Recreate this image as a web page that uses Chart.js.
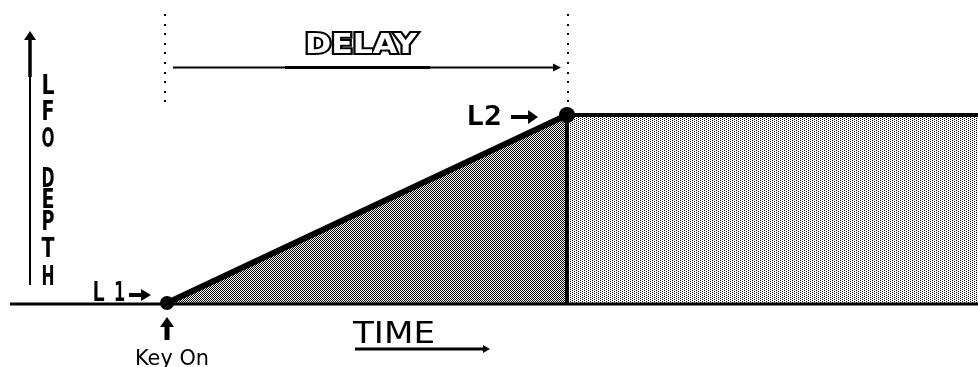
<!DOCTYPE html>
<html>
<head>
<meta charset="utf-8">
<script src="https://cdn.jsdelivr.net/npm/chart.js@4/dist/chart.umd.min.js"></script>
<style>
  html, body { margin: 0; padding: 0; background: #fff; }
  #wrap { width: 978px; height: 367px; position: relative; }
</style>
</head>
<body>
<div id="wrap"><canvas id="lfo"></canvas></div>
<script>
// Envelope of LFO depth over time: key on at L1, ramps to L2 over the delay, then holds.
const stageNames  = ['L1', 'L2', 'Hold'];
const stageTimes  = [0, 1, 2.1];     // key on, end of delay, held to the end
const stageDepths = [0, 1, 1];       // L1, L2, L2

// Text drawn around the envelope
const axisTitle  = 'LFO DEPTH';
const delayTitle = 'DELAY';
const timeTitle  = 'TIME';
const keyOnText  = 'Key On';

function makePattern(w, h, dots) {
  const c = document.createElement('canvas');
  c.width = w; c.height = h;
  const g = c.getContext('2d');
  g.fillStyle = '#fff';
  g.fillRect(0, 0, w, h);
  g.fillStyle = '#000';
  dots.forEach(([px, py]) => g.fillRect(px, py, 1, 1));
  return g.createPattern(c, 'repeat');
}
const ctx0 = document.getElementById('lfo').getContext('2d');
// dense dither under the rising ramp, sparse dots under the held level
const rampFill = makePattern(2, 2, [[0, 0], [1, 1]]);
const holdFill = makePattern(4, 4, [[0, 0], [0, 2], [2, 1], [2, 3]]);

const pt = i => ({ x: stageTimes[i], y: stageDepths[i] });

function textFit(ctx, str, x, y, font, width, align) {
  ctx.save();
  ctx.font = font;
  const w = ctx.measureText(str).width;
  const s = width / w;
  let left = x;
  if (align === 'center') left = x - width / 2;
  if (align === 'right') left = x - width;
  ctx.translate(left, y);
  ctx.scale(s, 1);
  ctx.textAlign = 'left';
  ctx.textBaseline = 'alphabetic';
  ctx.fillText(str, 0, 0);
  ctx.restore();
}

function hArrow(ctx, xa, xb, y, lw, head, hw) {
  const dir = Math.sign(xb - xa);
  ctx.lineWidth = lw;
  ctx.beginPath();
  ctx.moveTo(xa, y);
  ctx.lineTo(xb - dir * head, y);
  ctx.stroke();
  ctx.beginPath();
  ctx.moveTo(xb, y);
  ctx.lineTo(xb - dir * head, y - hw);
  ctx.lineTo(xb - dir * head, y + hw);
  ctx.closePath();
  ctx.fill();
}

const decorations = {
  id: 'decorations',
  afterDatasetsDraw(chart) {
    const ctx = chart.ctx;
    const X = chart.scales.x, Y = chart.scales.y;
    const x0 = X.getPixelForValue(stageTimes[0]);
    const x1 = X.getPixelForValue(stageTimes[1]);
    const yb = Y.getPixelForValue(stageDepths[0]);
    const yt = Y.getPixelForValue(stageDepths[1]);
    ctx.save();
    ctx.fillStyle = '#000';
    ctx.strokeStyle = '#000';

    // time axis
    ctx.lineWidth = 3;
    ctx.beginPath();
    ctx.moveTo(10, yb + 1);
    ctx.lineTo(chart.width, yb + 1);
    ctx.stroke();

    // depth axis arrow
    const ax = 30;
    ctx.lineWidth = 2;
    ctx.beginPath(); ctx.moveTo(ax, 40); ctx.lineTo(ax, yb - 18); ctx.stroke();
    ctx.lineWidth = 3.5;
    ctx.beginPath(); ctx.moveTo(ax, 40); ctx.lineTo(ax, 77); ctx.stroke();
    ctx.beginPath();
    ctx.moveTo(ax, 31); ctx.lineTo(ax - 6, 40); ctx.lineTo(ax + 6, 40); ctx.closePath();
    ctx.fill();

    // stacked axis title
    const letterBase = [94, 120, 147, 0, 187, 208, 230, 257, 285];
    [...axisTitle].forEach((ch, i) => {
      if (ch === ' ') return;
      textFit(ctx, ch, 48, letterBase[i], 'bold 27px "DejaVu Sans"', 13, 'center');
    });

    // dotted delay bounds
    [x0 - 2, x1 + 1].forEach(dx => {
      for (let y = 14; y <= 101; y += 9.6) ctx.fillRect(Math.round(dx) - 1, Math.round(y), 2, 2);
    });

    // delay span arrow
    hArrow(ctx, x0 + 6, x1 - 6, 67.5, 2, 8, 4);
    ctx.lineWidth = 3;
    ctx.beginPath(); ctx.moveTo(285, 67.5); ctx.lineTo(430, 67.5); ctx.stroke();

    // outlined DELAY title
    ctx.save();
    ctx.font = 'bold 27px "DejaVu Sans"';
    const dw = ctx.measureText(delayTitle).width;
    const sc = 112 / dw;
    ctx.translate((x0 + x1) / 2 - 6 - 56, 53);
    ctx.scale(sc, 1);
    ctx.lineJoin = 'miter';
    ctx.lineWidth = 4;
    ctx.strokeText(delayTitle, 0, 0);
    ctx.fillStyle = '#fff';
    ctx.fillText(delayTitle, 0, 0);
    ctx.restore();

    // level labels
    textFit(ctx, 'L2', x1 - 65, yt + 10, 'bold 27px "DejaVu Sans Mono"', 36, 'right');
    hArrow(ctx, x1 - 56, x1 - 29, yt + 2, 4, 10, 7);
    textFit(ctx, 'L', x0 - 75, yb - 2, 'bold 27px "DejaVu Sans Mono"', 13, 'left');
    textFit(ctx, '1', x0 - 53, yb - 2, 'bold 27px "DejaVu Sans Mono"', 11, 'left');
    hArrow(ctx, x0 - 38, x0 - 16, yb - 8, 4, 10, 6);

    // key on marker
    ctx.lineWidth = 5;
    ctx.beginPath(); ctx.moveTo(x0, 340); ctx.lineTo(x0, 326); ctx.stroke();
    ctx.beginPath();
    ctx.moveTo(x0, 317); ctx.lineTo(x0 - 7, 327); ctx.lineTo(x0 + 7, 327); ctx.closePath();
    ctx.fill();
    textFit(ctx, keyOnText, x0 + 5, 365, '500 21px "DejaVu Sans"', 74, 'center');

    // time direction
    textFit(ctx, timeTitle, 353, 343, '30px "DejaVu Sans"', 82, 'left');
    hArrow(ctx, 355, 490, 349, 3, 7, 4);

    ctx.restore();
  }
};

new Chart(ctx0, {
  type: 'line',
  data: {
    datasets: [
      { // level markers
        label: 'levels',
        data: [pt(0), pt(1)],
        showLine: false,
        pointRadius: [7, 8],
        pointBackgroundColor: '#000',
        pointBorderWidth: 0,
        order: -1
      },
      { // rising ramp over the delay
        label: stageNames[0] + '-' + stageNames[1],
        data: [pt(0), pt(1)],
        borderColor: '#000',
        borderWidth: 6,
        borderCapStyle: 'round',
        backgroundColor: rampFill,
        fill: 'origin',
        pointRadius: 0,
        order: 1
      },
      { // held level
        label: stageNames[2],
        data: [pt(1), pt(2)],
        borderColor: '#000',
        borderWidth: 4,
        backgroundColor: holdFill,
        fill: 'origin',
        pointRadius: 0,
        order: 2
      },
      { // edge where the delay ends
        label: 'edge',
        data: [{ x: stageTimes[1], y: stageDepths[0] }, pt(1)],
        borderColor: '#000',
        borderWidth: 4,
        fill: false,
        pointRadius: 0,
        order: 0
      }
    ]
  },
  options: {
    responsive: true,
    maintainAspectRatio: false,
    animation: false,
    layout: { padding: 0, autoPadding: false },
    plugins: { legend: { display: false }, tooltip: { enabled: false } },
    scales: {
      x: { type: 'linear', display: false, min: -0.4175, max: 2.0275 },
      y: { type: 'linear', display: false, min: -0.3404, max: 1.6117 }
    }
  },
  plugins: [decorations]
});
</script>
</body>
</html>
